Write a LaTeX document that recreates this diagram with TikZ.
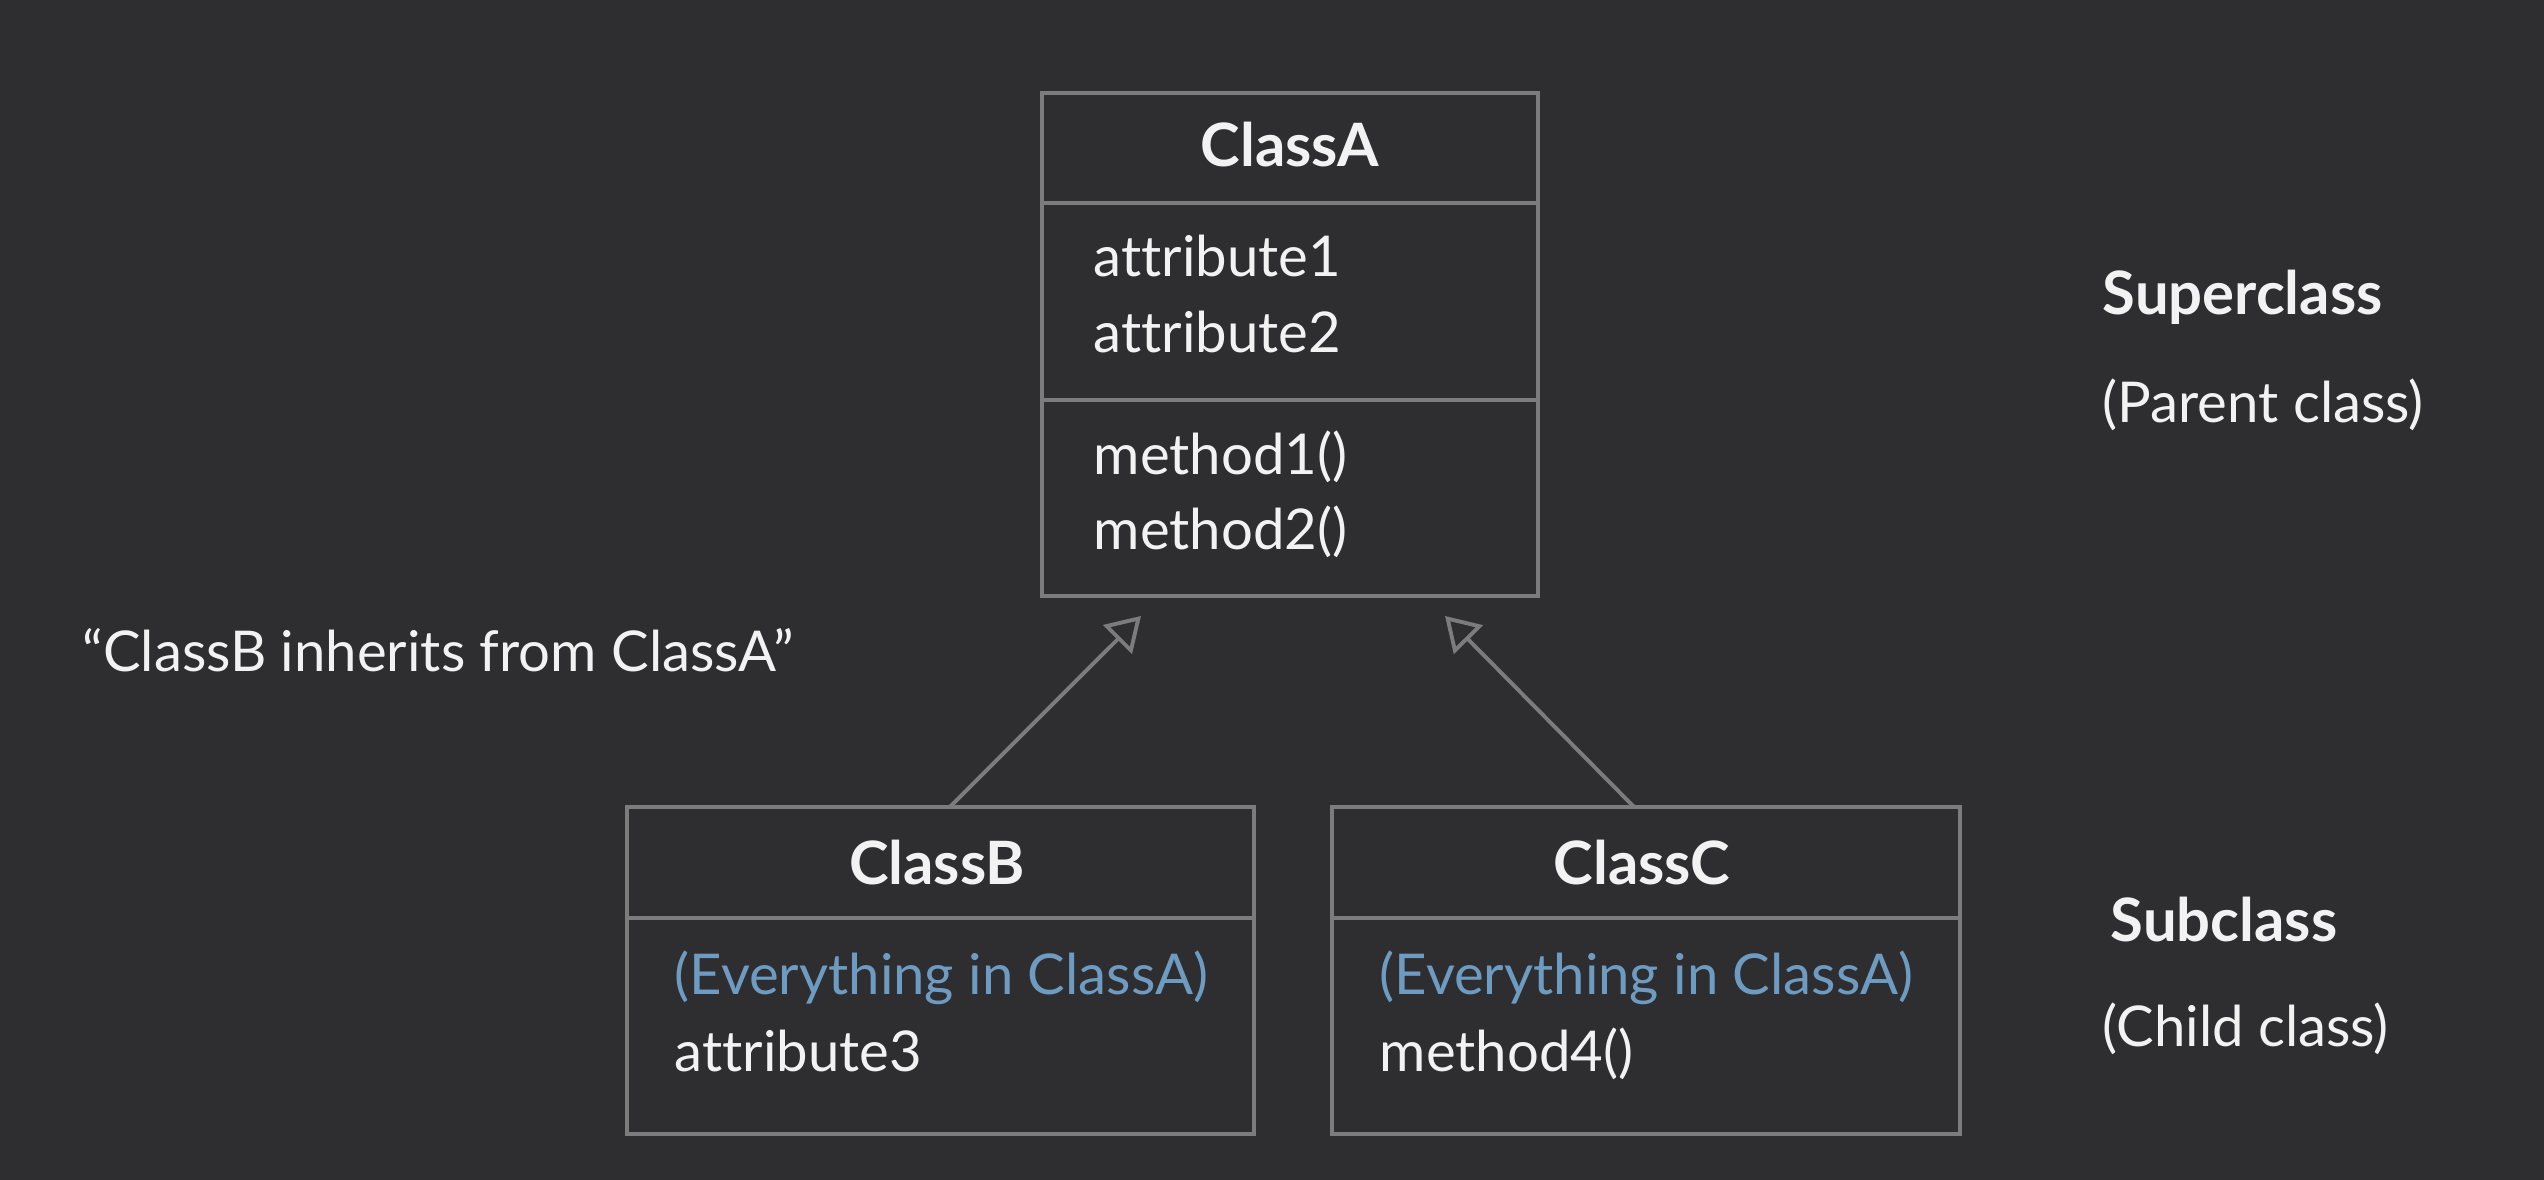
\documentclass[tikz,border=0pt]{standalone}
\usepackage{fontspec}
\setmainfont{Lato}[Ligatures=NoCommon]
\usetikzlibrary{arrows.meta}
\definecolor{bgc}{HTML}{2E2E30}
\definecolor{linec}{HTML}{7C7C7C}
\definecolor{txtc}{HTML}{F2F2F2}
\definecolor{bluec}{HTML}{6E9BC2}
\tikzset{
  box/.style={draw=linec, line width=1.1pt, inner sep=0pt, outer sep=0pt},
  divider/.style={draw=linec, line width=1.1pt},
  title/.style={anchor=base, text=txtc, font=\fontsize{17}{20}\selectfont\bfseries, inner sep=0pt},
  member/.style={anchor=base west, text=txtc, font=\fontsize{16}{19}\selectfont, inner sep=0pt},
  inherited/.style={member, text=bluec},
  side/.style={anchor=base west, text=txtc, font=\fontsize{16}{19}\selectfont, inner sep=0pt},
  sidebold/.style={side, font=\fontsize{17}{20}\selectfont\bfseries},
  inh/.style={draw=linec, line width=1.1pt, -{Triangle[open, length=9.5pt, width=11.5pt]}}
}
\begin{document}
\begin{tikzpicture}[x=0.01cm, y=-0.01cm]
\fill[bgc] (0,0) rectangle (2544,1180);
\useasboundingbox (0,0) rectangle (2544,1180);

% ClassA
\node[box, minimum width=4.96cm, minimum height=5.03cm] (A) at (1290,344.5) {};
\draw[divider] (1042,203) -- (1538,203);
\draw[divider] (1042,400) -- (1538,400);
\node[title] (Atitle) at (1290,167) {ClassA};
\node[member] (Aat1) at (1093,277) {attribute1};
\node[member] (Aat2) at (1093,353) {attribute2};
\node[member] (Ame1) at (1093,475) {method1()};
\node[member] (Ame2) at (1093,550) {method2()};

% ClassB
\node[box, minimum width=6.27cm, minimum height=3.27cm] (B) at (940.5,970.5) {};
\draw[divider] (627,918) -- (1254,918);
\node[title] (Btitle) at (937,885) {ClassB};
\node[inherited] (Binh) at (674,995) {(Everything in ClassA)};
\node[member] (Bat3) at (674,1072) {attribute3};

% ClassC
\node[box, minimum width=6.28cm, minimum height=3.27cm] (C) at (1646,970.5) {};
\draw[divider] (1332,918) -- (1960,918);
\node[title] (Ctitle) at (1642,885) {ClassC};
\node[inherited] (Cinh) at (1379,995) {(Everything in ClassA)};
\node[member] (Cme4) at (1379,1072) {method4()};

% inheritance arrows
\coordinate (tipB) at (1141,616);
\coordinate (tipC) at (1445,616);
\draw[inh] ([xshift=0.095cm]B.north) -- (tipB);
\draw[inh] ([xshift=-0.12cm]C.north) -- (tipC);

% labels
\node[side] (quote) at (82,672) {“ClassB inherits from ClassA”};
\node[sidebold] (super) at (2102,315) {Superclass};
\node[side] (parent) at (2102,423) {(Parent class)};
\node[sidebold] (sub) at (2110,942) {Subclass};
\node[side] (child) at (2102,1047) {(Child class)};
\end{tikzpicture}
\end{document}
